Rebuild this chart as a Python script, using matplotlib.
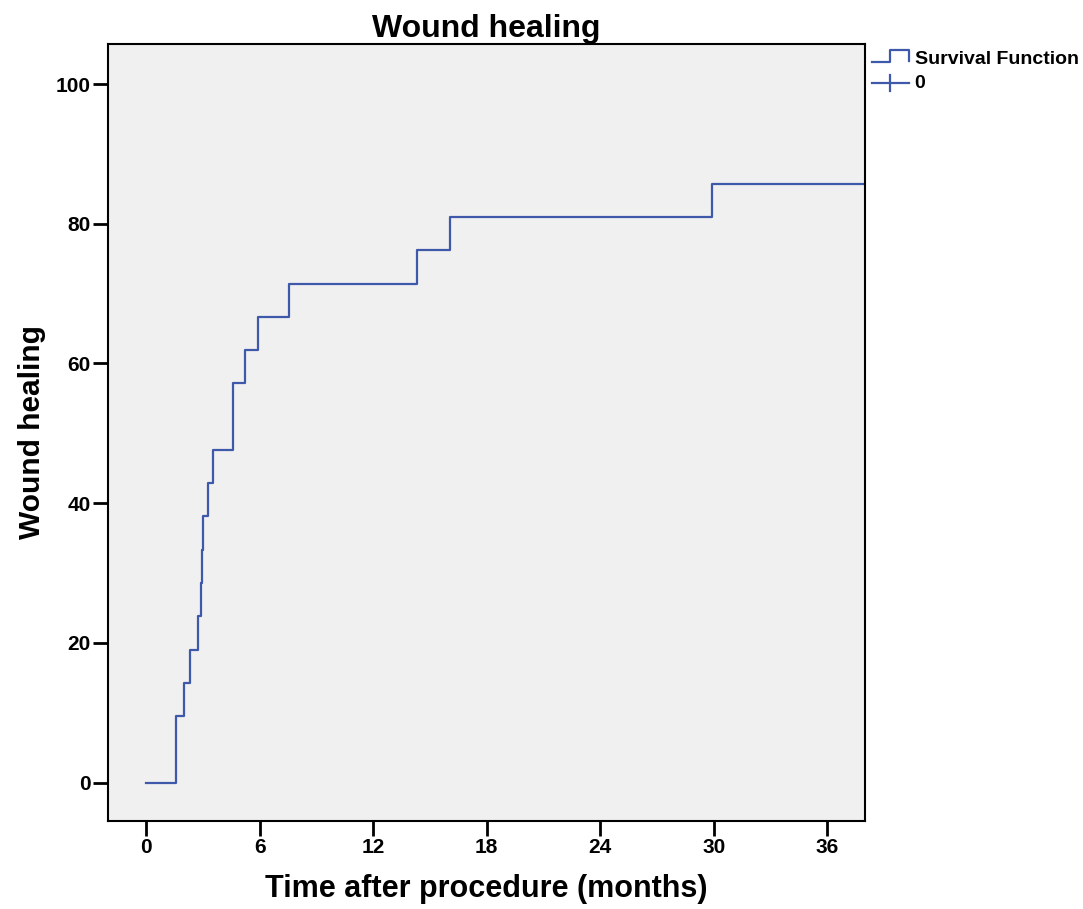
import matplotlib
matplotlib.use("Agg")
import matplotlib.pyplot as plt
from matplotlib.legend_handler import HandlerBase
from matplotlib.lines import Line2D

plt.rcParams['font.family'] = ['Liberation Sans', 'DejaVu Sans']

# Data (months, % healed)
step_times = [0, 1.59, 2.02, 2.30, 2.76, 2.92, 2.96, 3.01, 3.29, 3.54, 4.58, 5.20, 5.92, 7.57, 14.32, 16.08, 29.93, 40.0]
step_values = [0, 9.52, 14.29, 19.05, 23.81, 28.57, 33.33, 38.10, 42.86, 47.62, 57.14, 61.90, 66.67, 71.43, 76.19, 80.95, 85.71, 85.71]
x_ticks = [0, 6, 12, 18, 24, 30, 36]
y_ticks = [0, 20, 40, 60, 80, 100]
legend_labels = ["Survival Function", "0"]

line_color = "#3F59AA"

fig = plt.figure(figsize=(10.83, 9.09), dpi=100)
ax = fig.add_axes([0.1, 0.0968, 0.6987, 0.8553])
ax.set_facecolor("#F0F0F0")

ax.step(step_times, step_values, where='post', color=line_color, lw=1.6, clip_on=True)

ax.set_xlim(-2, 38)
ax.set_ylim(-5.5, 105.8)
ax.set_xticks(x_ticks)
ax.set_yticks(y_ticks)
ax.tick_params(direction='out', length=11, width=2, labelsize=15, pad=1.5)
for lab in ax.get_xticklabels() + ax.get_yticklabels():
    lab.set_fontweight('bold')
for s in ax.spines.values():
    s.set_linewidth(1.5)
    s.set_color("black")

ax.set_title("Wound healing", fontsize=23, fontweight='bold', pad=5)
ax.set_xlabel("Time after procedure (months)", fontsize=22, fontweight='bold', labelpad=12)
ax.set_ylabel("Wound healing", fontsize=21.5, fontweight='bold', labelpad=7)


class StepHandler(HandlerBase):
    def create_artists(self, legend, orig_handle, xdescent, ydescent, width, height, fontsize, trans):
        x0 = -xdescent
        y0 = -ydescent
        xs = [x0, x0 + 0.48 * width, x0 + 0.48 * width, x0 + width, x0 + width]
        ys = [y0 + 0.15 * height, y0 + 0.15 * height, y0 + 1.0 * height, y0 + 1.0 * height, y0 + 0.25 * height]
        ln = Line2D(xs, ys, color=line_color, lw=1.6, transform=trans)
        return [ln]


class CensorHandler(HandlerBase):
    def create_artists(self, legend, orig_handle, xdescent, ydescent, width, height, fontsize, trans):
        x0 = -xdescent
        y0 = -ydescent
        h = Line2D([x0, x0 + width], [y0 + 0.4 * height] * 2, color=line_color, lw=1.6, transform=trans)
        v = Line2D([x0 + 0.5 * width] * 2, [y0 - 0.2 * height, y0 + 1.0 * height], color=line_color, lw=1.6, transform=trans)
        return [h, v]


h1 = Line2D([], [], color=line_color)
h2 = Line2D([], [], color=line_color, marker='|')
leg = ax.legend([h1, h2], legend_labels, loc='upper left', bbox_to_anchor=(1.0, 1.0),
                frameon=False, handlelength=1.9, handletextpad=0.3, borderaxespad=0.15,
                borderpad=0.2, labelspacing=0.35, prop={'weight': 'bold', 'size': 14},
                handler_map={h1: StepHandler(), h2: CensorHandler()})

fig.savefig("out.png", dpi=100, facecolor='white')
